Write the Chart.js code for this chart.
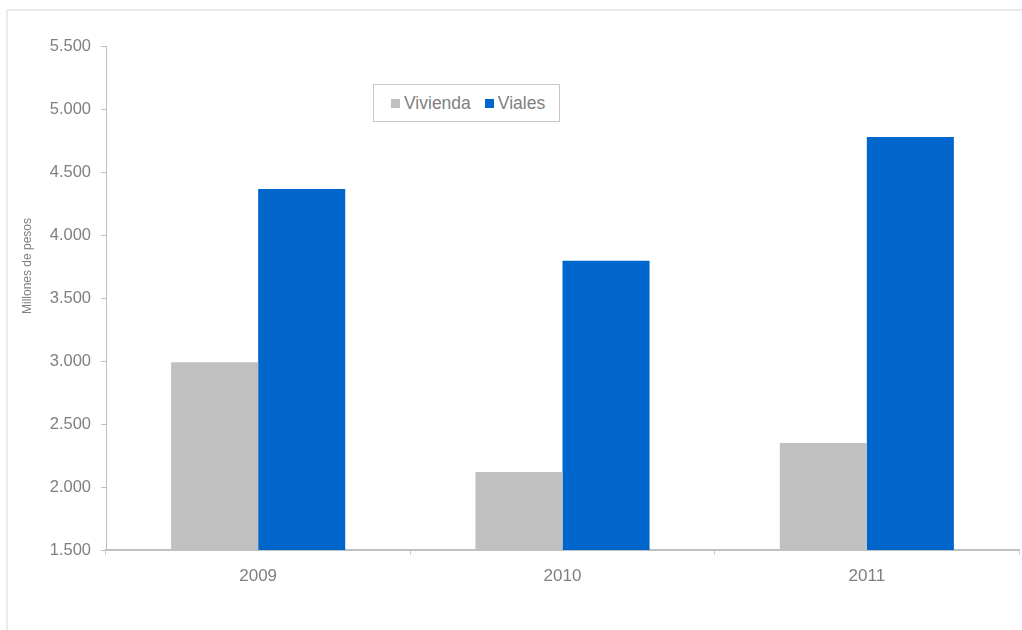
<!DOCTYPE html>
<html>
<head>
<meta charset="utf-8">
<script src="https://cdn.jsdelivr.net/npm/chart.js@4/dist/chart.umd.min.js"></script>
<style>
  html, body { margin: 0; padding: 0; background: #fff; }
  #wrap { position: relative; width: 1022px; height: 630px; overflow: hidden; font-family: "Liberation Sans", Arial, sans-serif; }
  #frame { position: absolute; left: 6px; top: 9px; width: 1030px; height: 640px; border: 2px solid #ebebeb; box-sizing: border-box; }
  #c { position: absolute; left: 0; top: 0; }
  #legend { position: absolute; left: 373px; top: 84px; width: 187px; height: 38px; border: 1px solid #c8c8c8; box-sizing: border-box; background: #fff; display: flex; align-items: center; padding-left: 17px; font-size: 17.5px; color: #7f7f7f; }
  #legend .item { display: flex; align-items: center; margin-right: 14px; }
  #legend .sw { width: 9px; height: 9px; margin-right: 4px; }
</style>
</head>
<body>
<div id="wrap">
  <div id="frame"></div>
  <canvas id="c" width="1022" height="630"></canvas>
  <div id="legend"></div>
</div>
<script>
const categories = ["2009", "2010", "2011"];
const vivienda = [2990, 2120, 2350];
const viales = [4365, 3795, 4778];
const seriesNames = ["Vivienda", "Viales"];
const seriesColors = ["#c0c0c0", "#0066cc"];
const yTicks = [1500, 2000, 2500, 3000, 3500, 4000, 4500, 5000, 5500];
const yTickLabels = ["1.500", "2.000", "2.500", "3.000", "3.500", "4.000", "4.500", "5.000", "5.500"];
const yTitle = "Millones de pesos";
const FONT = '"Liberation Sans", Arial, sans-serif';

const yTitlePlugin = {
  id: 'yTitle',
  afterDraw(chart) {
    const c = chart.ctx;
    c.save();
    c.translate(28, 266);
    c.rotate(-Math.PI / 2);
    c.fillStyle = '#7f7f7f';
    c.font = '12px ' + FONT;
    c.textAlign = 'center';
    c.textBaseline = 'middle';
    c.fillText(yTitle, 0, 0);
    c.restore();
  }
};

const ctx = document.getElementById('c').getContext('2d');
const chart = new Chart(ctx, {
  type: 'bar',
  data: {
    labels: categories,
    datasets: [
      { label: seriesNames[0], data: vivienda, backgroundColor: seriesColors[0], borderWidth: 0, categoryPercentage: 0.572, barPercentage: 1.0 },
      { label: seriesNames[1], data: viales, backgroundColor: seriesColors[1], borderWidth: 0, categoryPercentage: 0.572, barPercentage: 1.0 }
    ]
  },
  plugins: [yTitlePlugin],
  options: {
    responsive: false,
    animation: false,
    devicePixelRatio: 1,
    layout: { padding: { left: 0, top: 46, right: 3, bottom: 0 } },
    plugins: { legend: { display: false }, tooltip: { enabled: false } },
    scales: {
      x: {
        offset: true,
        grid: { display: true, drawOnChartArea: false, offset: true, tickLength: 5, color: '#d0d0d0', lineWidth: 1 },
        border: { display: true, color: '#c0c0c0', width: 2 },
        ticks: { color: '#7f7f7f', font: { family: FONT, size: 17 }, padding: 11 },
        afterFit: (s) => { s.height = 80; }
      },
      y: {
        min: 1500, max: 5500,
        afterBuildTicks: (s) => { s.ticks = yTicks.map(v => ({ value: v })); },
        grid: { display: true, drawOnChartArea: false, tickLength: 5, color: '#c0c0c0', lineWidth: 1 },
        border: { display: true, color: '#c0c0c0', width: 1 },
        ticks: {
          color: '#7f7f7f', font: { family: FONT, size: 16.5 }, padding: 10,
          callback: (v) => yTickLabels[yTicks.indexOf(v)]
        },
        afterFit: (s) => { s.width = 106; }
      }
    }
  }
});

const leg = document.getElementById('legend');
seriesNames.forEach((n, i) => {
  const it = document.createElement('div');
  it.className = 'item';
  const sw = document.createElement('div');
  sw.className = 'sw';
  sw.style.background = seriesColors[i];
  const t = document.createElement('span');
  t.textContent = n;
  it.appendChild(sw); it.appendChild(t);
  leg.appendChild(it);
});
</script>
</body>
</html>
